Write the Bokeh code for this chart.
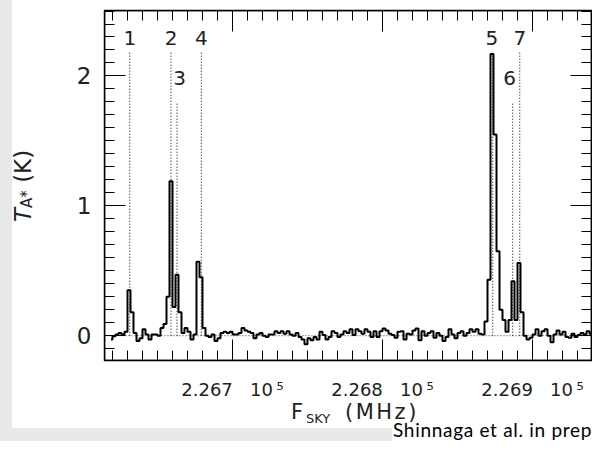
from bokeh.plotting import figure
from bokeh.models import (SingleIntervalTicker, LinearAxis, Span,
                          ColumnDataSource, Range1d, Div)
from bokeh.layouts import row, column
from bokeh.embed import file_html
from bokeh.resources import INLINE
from bokeh.core.properties import value

# ---------------- data ----------------
chan_start = 226619.0   # MHz, centre of first channel
chan_width = 2.0        # MHz
intensity = [
    -0.03, -0.005, 0.01, 0.02, 0.01, 0.03, 0.35, 0.18, 0.02, -0.04,
    -0.02, 0.05, 0.01, -0.03, 0.01, 0.01, 0.0, 0.06, 0.09, 0.30,
    1.19, 0.22, 0.47, 0.18, 0.02, 0.06, 0.03, -0.03, 0.01, 0.57,
    0.45, 0.06, 0.0, -0.01, 0.01, -0.04, -0.02, 0.02, 0.03, 0.02,
    0.03, 0.01, 0.01, 0.02, 0.06, 0.04, 0.03, 0.02, -0.02, 0.01,
    0.02, 0.0, -0.01, 0.01, 0.01, 0.035, 0.02, 0.035, 0.015, 0.035,
    0.01, 0.0, 0.02, -0.01, -0.03, -0.065, -0.02, -0.035, -0.01, -0.03,
    0.03, 0.005, -0.03, -0.01, 0.035, 0.02, -0.01, 0.01, 0.035, 0.02,
    0.05, 0.005, 0.05, 0.035, 0.015, 0.05, 0.03, -0.01, 0.035, -0.01,
    0.035, 0.055, 0.04, 0.015, 0.005, -0.015, 0.03, 0.035, -0.03, 0.015,
    0.01, 0.04, 0.055, -0.035, 0.035, 0.0, 0.02, 0.035, -0.015, 0.02,
    0.0, -0.04, -0.01, 0.05, 0.01, -0.02, 0.02, 0.035, 0.0, 0.02,
    0.05, 0.03, 0.05, 0.015, 0.01, 0.11, 0.43, 2.17, 1.55, 0.65,
    0.20, 0.12, 0.03, 0.12, 0.42, 0.12, 0.56, 0.18, 0.0, -0.03,
    -0.015, 0.01, 0.05, 0.0, 0.035, 0.05, 0.0, -0.05, 0.01, 0.04,
    0.01, 0.03, -0.01, -0.015, 0.015, -0.01, 0.005, 0.02, 0.01, 0.035,
    0.015, 0.04, 0.01, 0.035, 0.02, -0.03,
]
freqs = [chan_start + chan_width * i for i in range(len(intensity))]

line_ids = ["1", "2", "3", "4", "5", "6", "7"]
line_freq = [226631.5, 226659.0, 226663.0, 226679.2, 226873.5, 226886.8, 226891.5]
line_top = [2.19, 2.19, 1.80, 2.19, 2.19, 1.80, 2.19]
label_y = [2.29, 2.29, 1.982, 2.29, 2.29, 1.982, 2.29]
label_dx = [0, 0, 2.5, 0, -1, -3, 0]

x_major = [226700, 226800, 226900]
y_major = [0, 1, 2]
x_tick_labels = ["2.267\u00a0\u00a0\u00a010\u2009\u2075",
                 "2.268\u00a0\u00a0\u00a010\u2009\u2075",
                 "2.269\u00a0\u00a0\u00a010\u2009\u2075"]

x_label_main, x_label_sub, x_label_unit = "F", "SKY", "(MHz)"
y_label_main, y_label_sub, y_label_unit = "T", "A*", "(K)"
credit = "Shinnaga et al. in prep"

# ---------------- figure ----------------
X0, X1 = 226614.67, 226939.33     # 1.5 px per MHz
Y0, Y1 = -0.191, 2.504            # 131 px per K
TXT = "#222222"
GRAY = "#e9e9e9"

p = figure(width=554, height=402,
           x_range=Range1d(X0, X1), y_range=Range1d(Y0, Y1),
           output_backend="svg", toolbar_location=None,
           x_axis_location=None, y_axis_location=None,
           min_border_left=66, min_border_right=1, min_border_top=10, min_border_bottom=39)
p.grid.visible = False
p.background_fill_color = "white"
p.border_fill_color = "white"
p.outline_line_color = "black"
p.outline_line_width = 1.5


def tick_axis(interval, side, location, majors):
    """Axis pinned on the frame edge that draws inward ticks only."""
    ax = LinearAxis(ticker=SingleIntervalTicker(interval=interval, num_minor_ticks=10),
                    fixed_location=location)
    ax.major_tick_in = 21
    ax.major_tick_out = 0
    ax.minor_tick_in = 10
    ax.minor_tick_out = 0
    ax.axis_line_color = "black"
    ax.axis_line_width = 1.5
    ax.major_tick_line_color = "black"
    ax.minor_tick_line_color = "black"
    ax.major_tick_line_width = 1
    ax.minor_tick_line_width = 1
    ax.major_label_overrides = {t: "" for t in majors}
    ax.major_label_text_font_size = "0px"
    ax.major_label_standoff = 0
    p.add_layout(ax, side)
    return ax


def label_axis(interval, side):
    """Axis that carries the tick labels (zero-length ticks)."""
    ax = LinearAxis(ticker=SingleIntervalTicker(interval=interval, num_minor_ticks=10))
    ax.major_tick_in = 0
    ax.major_tick_out = 0
    ax.minor_tick_in = 0
    ax.minor_tick_out = 0
    ax.major_tick_line_color = "black"
    ax.minor_tick_line_color = "black"
    ax.axis_line_color = "black"
    ax.axis_line_alpha = 0.0
    ax.major_label_text_font = "DejaVu Sans"
    ax.major_label_text_color = TXT
    p.add_layout(ax, side)
    return ax

# tick-only axes first (they draw the inward ticks on all four sides)
tick_axis(100, "below", Y0, x_major)
tick_axis(1, "left", X0, y_major)
tick_axis(100, "above", Y1, x_major)
tick_axis(1, "right", X1, y_major)

# labelled axes
bx = label_axis(100, "below")
bx.major_label_overrides = {t: s for t, s in zip(x_major, x_tick_labels)}
bx.major_label_text_font_size = "18px"
bx.major_label_standoff = 18

ly = label_axis(1, "left")
ly.major_label_text_font_size = "23px"
ly.major_label_standoff = 13

# zero line
p.add_layout(Span(location=0, dimension="width", line_color="black", line_width=1,
                  line_dash="1 2", line_alpha=0.8))

# line markers
src = ColumnDataSource(dict(f=line_freq, top=line_top, zero=[0] * len(line_freq),
                            ly=label_y, txt=line_ids, dx=label_dx))
p.segment(x0="f", y0="zero", x1="f", y1="top", source=src, line_color="black",
          line_width=1, line_dash="1 2")
p.text(x="f", y="ly", text="txt", x_offset="dx", source=src, text_align="center",
       text_baseline="alphabetic", text_font=value("DejaVu Sans"), text_font_size="20px",
       text_color=TXT)

# spectrum
p.step(freqs, intensity, mode="center", line_width=2, line_color="black")

# ---------------- surrounding texts (HTML) ----------------
FONT = "font-family:'DejaVu Sans';color:%s;white-space:nowrap;position:absolute;" % TXT

ylab_html = (
    '<div style="position:relative;width:38px;height:402px;overflow:visible;">'
    '<div style="position:absolute;left:0;top:0;width:12px;height:402px;background:%s;"></div>'
    '<div style="%sleft:12px;top:222px;font-size:23px;line-height:23px;'
    'transform-origin:left top;transform:rotate(-90deg);">'
    '<i>%s</i><span style="font-size:15px;position:relative;top:1px;">%s</span>&nbsp;%s</div>'
    '</div>' % (GRAY, FONT, y_label_main, y_label_sub, y_label_unit)
)
ydiv = Div(text=ylab_html, width=38, height=402, margin=(0, 0, 0, 0))

xlab_html = (
    '<div style="position:relative;width:592px;height:22px;overflow:visible;">'
    '<div style="position:absolute;left:0;top:0;width:12px;height:22px;background:%s;"></div>'
    '<div style="%sleft:291px;top:0px;font-size:21px;line-height:21px;">%s</div>'
    '<div style="%sleft:306px;top:10px;font-size:13px;line-height:13px;">%s</div>'
    '<div style="%sleft:345px;top:0px;font-size:21px;line-height:21px;letter-spacing:2.5px;">%s</div>'
    '</div>' % (GRAY, FONT, x_label_main, FONT, x_label_sub, FONT, x_label_unit)
)
xdiv = Div(text=xlab_html, width=592, height=22, margin=(0, 0, 0, 0))

credit_html = (
    '<div style="position:relative;width:592px;height:17px;overflow:visible;">'
    '<div style="position:absolute;left:0;top:0;width:12px;height:4px;background:%s;"></div>'
    '<div style="position:absolute;left:0;top:4px;width:392px;height:13px;background:%s;"></div>'
    '<div style="position:absolute;left:393px;top:-4px;white-space:nowrap;'
    "font-family:'Lato';color:#000;font-size:19px;line-height:19px;letter-spacing:0.7px;\">%s</div>"
    '</div>' % (GRAY, GRAY, credit)
)
cdiv = Div(text=credit_html, width=592, height=17, margin=(0, 0, 0, 0))

layout = column(row(ydiv, p, spacing=0), xdiv, cdiv, spacing=0)

open("out.html", "w").write(file_html(layout, INLINE))
